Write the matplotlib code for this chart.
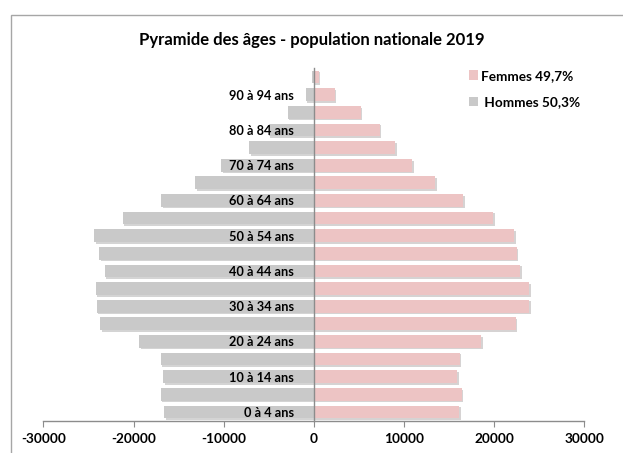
"""
Pyramide des âges - population nationale 2019 (bar pyramid, hommes à gauche).
"""

import matplotlib
matplotlib.use("Agg")
import matplotlib.pyplot as plt
import matplotlib.patheffects as pe
from matplotlib.patches import Rectangle, Patch

# ── Data (bottom to top: 0-4 ans ... 95+ ans) ─────────────────────────────
age_groups = ["0 à 4 ans", "5 à 9 ans", "10 à 14 ans", "15 à 19 ans", "20 à 24 ans",
              "25 à 29 ans", "30 à 34 ans", "35 à 39 ans", "40 à 44 ans", "45 à 49 ans",
              "50 à 54 ans", "55 à 59 ans", "60 à 64 ans", "65 à 69 ans", "70 à 74 ans",
              "75 à 79 ans", "80 à 84 ans", "85 à 89 ans", "90 à 94 ans", "95 ans et +"]
hommes = [16600, 17000, 16700, 17000, 19400, 23700, 24100, 24200, 23200, 23800,
          24400, 21200, 16900, 13200, 10300, 7200, 5000, 2900, 900, 150]
femmes = [16100, 16400, 15900, 16200, 18600, 22400, 23900, 23900, 22900, 22500,
          22200, 19900, 16600, 13500, 10900, 9000, 7300, 5200, 2300, 550]
label_femmes = "Femmes 49,7%"
label_hommes = " Hommes 50,3%"
title = "Pyramide des âges - population nationale 2019"
xticks = [-30000, -20000, -10000, 0, 10000, 20000, 30000]

FONT = ["Lato", "DejaVu Sans"]
plt.rcParams["font.family"] = FONT

color_f = "#edc4c4"
color_h = "#c9c9c9"
axis_gray = "#8c8c8c"

fig = plt.figure(figsize=(6.23, 4.53), dpi=100)
ax = fig.add_axes([0.0697, 0.0713, 0.868, 0.778])

pos = list(range(len(age_groups)))
shadow = [pe.SimplePatchShadow(offset=(1.2, -1.2), alpha=0.22), pe.Normal()]
ax.barh(pos, [-h for h in hommes], height=0.72, color=color_h, path_effects=shadow, zorder=1)
ax.barh(pos, femmes, height=0.72, color=color_f, path_effects=shadow, zorder=1)

ax.set_xlim(-30000, 30000)
ax.set_ylim(-0.5, len(age_groups) - 0.5)

# category labels: every other group, next to the vertical axis at x=0
ax.spines["left"].set_position(("data", 0))
ax.spines["left"].set_color(axis_gray)
ax.spines["left"].set_linewidth(1.0)
ax.set_yticks(pos[::2])
ax.set_yticklabels(age_groups[::2], fontsize=9.2, fontweight="bold")
ax.tick_params(axis="y", length=0, pad=14)

ax.spines["bottom"].set_color(axis_gray)
ax.spines["bottom"].set_linewidth(1.0)
ax.set_xticks(xticks)
ax.set_xticklabels([str(t) for t in xticks], fontsize=9.8, fontweight="bold")
ax.tick_params(axis="x", length=4, color=axis_gray, pad=5)
ax.spines["top"].set_visible(False)
ax.spines["right"].set_visible(False)

fig.text(0.501, 0.912, title, ha="center", va="center", fontsize=12, fontweight="bold")

handles = [Patch(facecolor=color_f, edgecolor="none"), Patch(facecolor=color_h, edgecolor="none")]
leg = fig.legend(handles, [label_femmes, label_hommes], loc="upper left",
                 bbox_to_anchor=(0.733, 0.873), frameon=False,
                 prop={"size": 9.8, "weight": "bold"},
                 handlelength=0.65, handleheight=0.65, handletextpad=0.25,
                 labelspacing=1.05)

# outer chart frame (cropped on right and bottom like the source)
fig.patches.append(Rectangle((11 / 623, -0.1), 1.2, 1 - 15 / 453 + 0.1,
                             transform=fig.transFigure, fill=False,
                             edgecolor="#a6a6a6", linewidth=1.0))

fig.savefig("out.png", dpi=100)
